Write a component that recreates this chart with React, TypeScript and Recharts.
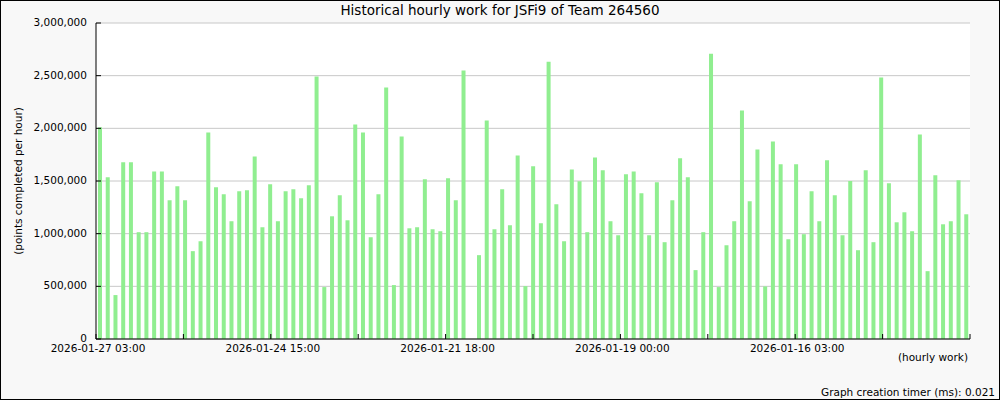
import { BarChart, Bar, XAxis, YAxis, CartesianGrid } from "recharts";

// hourly work, newest first (points completed per hour)
const hourlyPoints = [
  2010000, 1535000, 417000, 1677000, 1677000, 1014000, 1014000, 1591000, 1591000, 1317000,
  1449000, 1317000, 834000, 928000, 1961000, 1440000, 1374000, 1118000, 1402000, 1411000,
  1733000, 1061000, 1468000, 1118000, 1402000, 1421000, 1336000, 1459000, 2491000, 493000,
  1165000, 1364000, 1127000, 2037000, 1961000, 966000, 1374000, 2387000, 512000, 1923000,
  1051000, 1061000, 1516000, 1042000, 1023000, 1525000, 1317000, 2548000, 0, 796000,
  2074000, 1042000, 1421000, 1080000, 1743000, 502000, 1639000, 1099000, 2633000, 1279000,
  928000, 1610000, 1497000, 1014000, 1724000, 1601000, 1118000, 985000, 1563000, 1591000,
  1383000, 985000, 1487000, 919000, 1317000, 1715000, 1535000, 654000, 1014000, 2709000,
  493000, 890000, 1118000, 2169000, 1307000, 1800000, 499000, 1876000, 1658000, 947000,
  1658000, 995000, 1402000, 1118000, 1696000, 1364000, 985000, 1500000, 843000, 1601000,
  919000, 2482000, 1478000, 1108000, 1203000, 1023000, 1942000, 644000, 1554000, 1089000,
  1118000, 1506000, 1184000,
];

const xTickLabels = [
  "2026-01-27 03:00", "", "2026-01-24 15:00", "", "2026-01-21 18:00", "",
  "2026-01-19 00:00", "", "2026-01-16 03:00", "", "",
];

const yTicks = [0, 500000, 1000000, 1500000, 2000000, 2500000, 3000000];

const data = hourlyPoints.map((v, i) => ({ slot: i + 0.5, points: v }));
const slotCount = hourlyPoints.length;
const xTicks = xTickLabels.map((_, k) => (k * slotCount) / (xTickLabels.length - 1));

const FONT = "'DejaVu Sans', sans-serif";

function XTick(props: any) {
  const { x, y, payload } = props;
  const label = xTickLabels[payload.index] ?? "";
  return (
    <g>
      <line x1={x} y1={y} x2={x} y2={y - 5} stroke="#000" />
      {label && (
        <text x={x + 2} y={y + 13} textAnchor="middle" fontSize={10.5} fontFamily={FONT} fill="#000">
          {label}
        </text>
      )}
    </g>
  );
}

function YTick(props: any) {
  const { x, y, payload } = props;
  return (
    <g>
      <line x1={x} y1={y} x2={x + 5} y2={y} stroke="#000" />
      <text x={x - 9} y={y} dy="0.3em" textAnchor="end" fontSize={10.5} fontFamily={FONT} fill="#000">
        {payload.value.toLocaleString("en-US")}
      </text>
    </g>
  );
}

export default function App() {
  return (
    <div
      style={{
        position: "fixed",
        left: 0,
        top: 0,
        width: 1000,
        height: 400,
        background: "#f8f8f8",
        fontFamily: FONT,
        color: "#000",
      }}
    >
      <BarChart
        width={1000}
        height={400}
        data={data}
        margin={{ top: 23, right: 30, left: 10, bottom: 31 }}
      >
        <CartesianGrid vertical={false} stroke="#c8c8c8" fill="#fff" />
        <XAxis
          type="number"
          dataKey="slot"
          domain={[0, slotCount]}
          ticks={xTicks}
          interval={0}
          height={30}
          tickSize={0}
          tickMargin={0}
          tickLine={false}
          axisLine={{ stroke: "#000" }}
          tick={<XTick />}
        />
        <YAxis
          domain={[0, 3000000]}
          ticks={yTicks}
          interval={0}
          width={86}
          tickSize={0}
          tickMargin={0}
          tickLine={false}
          axisLine={{ stroke: "#000" }}
          tick={<YTick />}
        />
        <Bar dataKey="points" fill="#90ee90" barSize={4} isAnimationActive={false} />
      </BarChart>

      <div
        style={{
          position: "absolute",
          left: 0,
          top: 4,
          width: 1000,
          textAlign: "center",
          fontSize: 13.5,
          lineHeight: "13px",
        }}
      >
        Historical hourly work for JSFi9 of Team 264560
      </div>
      <div
        style={{
          position: "absolute",
          left: 18,
          top: 181,
          transform: "translate(-50%, -50%) rotate(-90deg)",
          whiteSpace: "nowrap",
          fontSize: 10.5,
          lineHeight: "11px",
        }}
      >
        (points completed per hour)
      </div>
      <div
        style={{
          position: "absolute",
          right: 32,
          top: 352,
          fontSize: 10.5,
          lineHeight: "11px",
        }}
      >
        (hourly work)
      </div>
      <div
        style={{
          position: "absolute",
          right: 5,
          top: 387,
          fontSize: 10.5,
          lineHeight: "11px",
        }}
      >
        Graph creation timer (ms): 0.021
      </div>
      <div
        style={{
          position: "absolute",
          inset: 0,
          border: "1px solid #000",
          pointerEvents: "none",
        }}
      />
    </div>
  );
}
